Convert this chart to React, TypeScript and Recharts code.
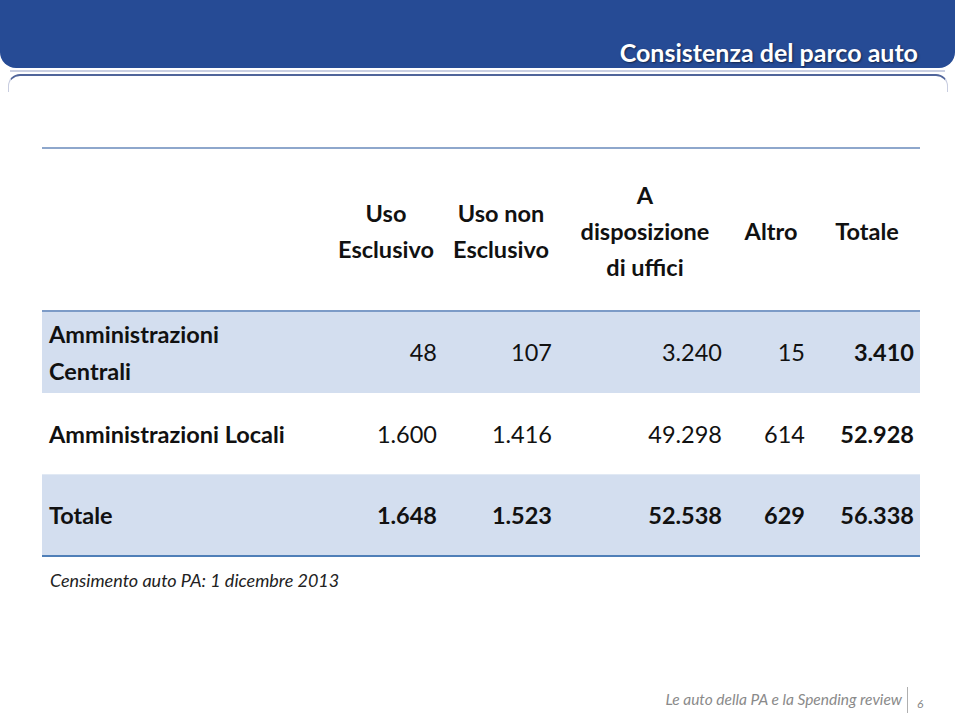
import { BarChart, Bar, XAxis, YAxis } from 'recharts';

// Consistenza del parco auto — census table drawn as a vertical bar chart
const rowLabels = ['Amministrazioni Centrali', 'Amministrazioni Locali', 'Totale'];
const rowLabelLines = [['Amministrazioni', 'Centrali'], ['Amministrazioni Locali'], ['Totale']];
const columnHeaders = [
  ['Uso', 'Esclusivo'],
  ['Uso non', 'Esclusivo'],
  ['A', 'disposizione', 'di uffici'],
  ['Altro'],
  ['Totale'],
];
const usoEsclusivo = [48, 1600, 1648];
const usoNonEsclusivo = [107, 1416, 1523];
const disposizioneUffici = [3240, 49298, 52538];
const altro = [15, 614, 629];
const totale = [3410, 52928, 56338];

const tableData = rowLabels.map((row, i) => ({
  row,
  lines: rowLabelLines[i],
  values: [usoEsclusivo[i], usoNonEsclusivo[i], disposizioneUffici[i], altro[i], totale[i]],
  totale: totale[i],
}));

const FONT = 'Lato, "Open Sans", sans-serif';
const FS = 23.5;
const TABLE_LEFT = 42;
const TABLE_RIGHT = 920;
const valueRight = [437, 552, 722, 805, 914];
const headerCenter = [386, 501, 645, 771, 867];

const fmt = (n: number) => String(n).replace(/\B(?=(\d{3})+(?!\d))/g, '.');

function RowShape(props: any) {
  const { y, height, index, payload } = props;
  const cy = y + height / 2;
  const shaded = index !== 1;
  const totalRow = index === tableData.length - 1;
  const lines: string[] = payload.lines;
  return (
    <g>
      {shaded && (
        <rect x={TABLE_LEFT} y={y} width={TABLE_RIGHT - TABLE_LEFT} height={height} fill="#d3deef" />
      )}
      {lines.map((l, k) => (
        <text
          key={l}
          x={49}
          y={cy + (k - (lines.length - 1) / 2) * 37}
          dominantBaseline="central"
          fontFamily={FONT}
          fontWeight={700}
          fontSize={FS}
          fill="#111"
        >
          {l}
        </text>
      ))}
      {payload.values.map((v: number, k: number) => (
        <text
          key={k}
          x={valueRight[k]}
          y={cy}
          textAnchor="end"
          dominantBaseline="central"
          fontFamily={FONT}
          fontWeight={totalRow || k === 4 ? 700 : 400}
          fontSize={FS}
          fill="#111"
        >
          {fmt(v)}
        </text>
      ))}
    </g>
  );
}

export default function App() {
  return (
    <div style={{ position: 'absolute', left: 0, top: 0, width: 960, height: 714, background: '#fff', overflow: 'hidden', fontFamily: FONT }}>
      {/* title band */}
      <div style={{ position: 'absolute', left: 0, top: -20, width: 955, height: 88, background: '#264b95', borderRadius: '0 0 16px 16px' }} />
      <div style={{ position: 'absolute', right: 42, top: 37, color: '#fff', fontWeight: 700, fontSize: 25, lineHeight: '30px', textShadow: '1px 1px 2px rgba(0,0,0,0.5)' }}>
        Consistenza del parco auto
      </div>
      <div style={{ position: 'absolute', left: 10, top: 70, width: 935, height: 2, background: '#c9cfe2' }} />
      <div style={{ position: 'absolute', left: 8, top: 74, width: 938, height: 16, borderTop: '2px solid #50659a', borderLeft: '1px solid #c8cde0', borderRight: '1px solid #c8cde0', borderRadius: '12px 12px 0 0' }} />

      {/* column headers */}
      {columnHeaders.map((lines, k) => (
        <div
          key={k}
          style={{
            position: 'absolute',
            left: headerCenter[k] - 80,
            width: 160,
            top: 231 - (lines.length * 36) / 2,
            textAlign: 'center',
            lineHeight: '36px',
            fontWeight: 700,
            fontSize: FS,
            color: '#111',
          }}
        >
          {lines.map((l) => (
            <div key={l}>{l}</div>
          ))}
        </div>
      ))}

      <div style={{ position: 'absolute', left: 0, top: 311 }}>
        <BarChart
          width={960}
          height={245}
          data={tableData}
          layout="vertical"
          margin={{ top: 0, right: 960 - TABLE_RIGHT, bottom: 0, left: TABLE_LEFT }}
          barCategoryGap={0}
        >
          <XAxis type="number" hide domain={[0, 'dataMax']} />
          <YAxis type="category" dataKey="row" hide />
          <Bar dataKey="totale" shape={RowShape} isAnimationActive={false} />
        </BarChart>
      </div>

      {/* table rules */}
      <div style={{ position: 'absolute', left: TABLE_LEFT, top: 147, width: TABLE_RIGHT - TABLE_LEFT, height: 2, background: '#8ea7cc' }} />
      <div style={{ position: 'absolute', left: TABLE_LEFT, top: 310, width: TABLE_RIGHT - TABLE_LEFT, height: 2, background: '#7c9bc7' }} />
      <div style={{ position: 'absolute', left: TABLE_LEFT, top: 555, width: TABLE_RIGHT - TABLE_LEFT, height: 2, background: '#4f7fb8' }} />

      <div style={{ position: 'absolute', left: 50, top: 568, fontStyle: 'italic', fontSize: 18, lineHeight: '24px', color: '#222' }}>
        Censimento auto PA: 1 dicembre 2013
      </div>

      {/* footer */}
      <div style={{ position: 'absolute', right: 58, top: 688, fontStyle: 'italic', fontSize: 15.5, lineHeight: '22px', color: '#8a8a8a' }}>
        Le auto della PA e la Spending review
      </div>
      <div style={{ position: 'absolute', left: 907, top: 687, width: 1, height: 26, background: '#b0b0b0' }} />
      <div style={{ position: 'absolute', left: 917, top: 696, fontStyle: 'italic', fontSize: 12, color: '#8a8a8a' }}>6</div>
    </div>
  );
}
